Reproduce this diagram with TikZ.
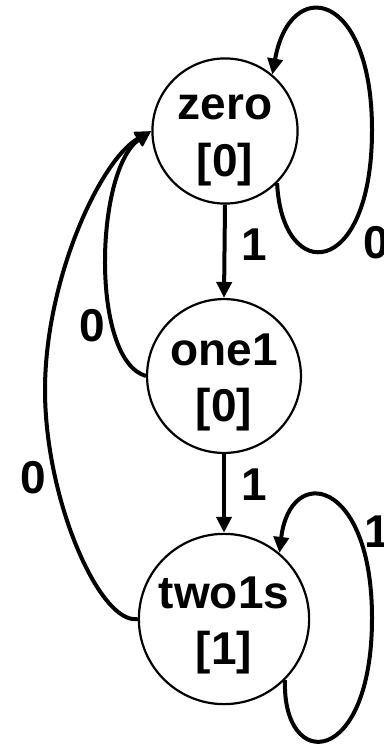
\documentclass[tikz,border=0pt]{standalone}
\usepackage{fontspec}
\setmainfont{Liberation Sans}
\usetikzlibrary{arrows.meta}
\begin{document}
\begin{tikzpicture}[x=1pt,y=-1pt,
  state/.style={circle,draw,line width=2.2pt,minimum size=138pt,inner sep=0pt,align=center,font=\fontsize{46}{56}\selectfont\bfseries},
  edge/.style={line width=4pt,-{Triangle[length=16pt,width=15pt]}},
  lab/.style={font=\fontsize{46}{56}\selectfont\bfseries,inner sep=0pt}]
\useasboundingbox (0,0) rectangle (383,746);
\node[state] (zero) at (225,131) {\rule{0pt}{44pt}zero\\{}[0]\rule[-10pt]{0pt}{10pt}};
\node[state] (one1) at (224,376) {\rule{0pt}{44pt}one1\\{}[0]\rule[-10pt]{0pt}{10pt}};
\node[state] (two1s) at (224,619) {\rule{0pt}{44pt}two1s\\{}[1]\rule[-10pt]{0pt}{10pt}};
% straight edges
\draw[edge] (zero.south) -- (one1.north);
\draw[edge] (one1.south) -- (two1s.north);
% self loops
\draw[edge] (zero.south east) .. controls (282,285) and (372,280) .. (372,130)
  .. controls (372,-10) and (290,-25) .. (zero.50);
\draw[edge] (two1s.south east) .. controls (282,773) and (372,768) .. (372,618)
  .. controls (372,478) and (290,463) .. (two1s.50);
% back edges
\draw[edge] (one1.west) .. controls (90,360) and (95,170) .. (zero.west);
\draw[edge] (two1s.west) .. controls (100,625) and (45,500) .. (45,390)
  .. controls (45,280) and (100,160) .. (zero.west);
% labels
\node[lab] (l1) at (254,245) {1};
\node[lab] (l2) at (254,485) {1};
\node[lab] (l3) at (376,243) {0};
\node[lab] (l4) at (377,532) {1};
\node[lab] (l5) at (92,326) {0};
\node[lab] (l6) at (33,478) {0};
\end{tikzpicture}
\end{document}
